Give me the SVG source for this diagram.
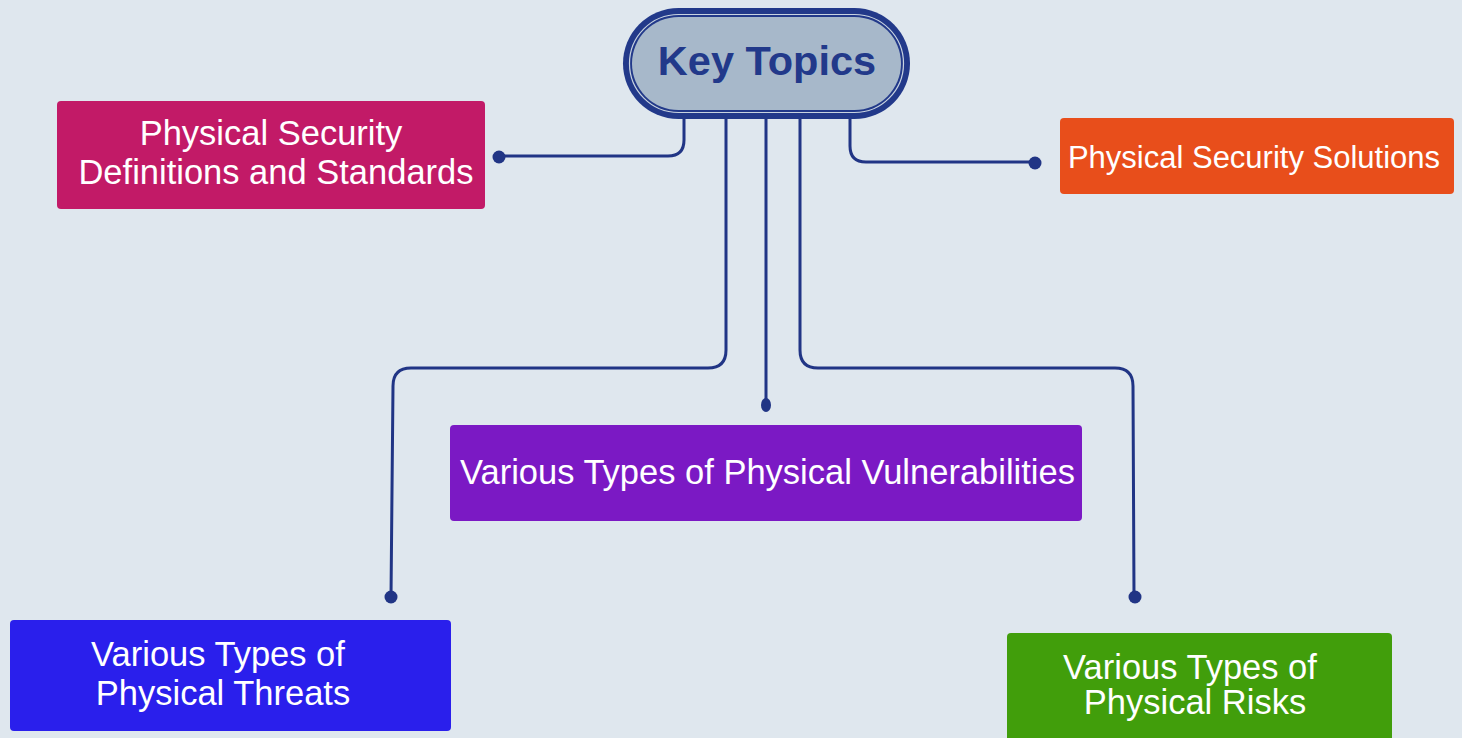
<svg xmlns="http://www.w3.org/2000/svg" width="1462" height="738" viewBox="0 0 1462 738">
<defs>
<style>
.bg{fill:#dfe7ee}
.con{fill:none;stroke:#213585;stroke-width:3}
.dot{fill:#213585}
.box{stroke:none}
.t{font-family:"Liberation Sans",Arial,sans-serif;fill:#ffffff;text-anchor:middle}
.key{font-family:"Liberation Sans",Arial,sans-serif;font-weight:bold;fill:#22398a;text-anchor:middle;font-size:41.5px}
</style>
</defs>
<rect class="bg" x="0" y="0" width="1462" height="738"/>
<g id="connectors">
<path class="con" d="M684,116 V140 Q684,156 668,156 H499"/>
<circle class="dot" cx="499" cy="157" r="6.5"/>
<path class="con" d="M850,116 V146 Q850,162 866,162 H1035"/>
<circle class="dot" cx="1035" cy="163" r="6.5"/>
<path class="con" d="M726,116 V350 Q726,368 708,368 H411 Q393,368 393,386 L391,597"/>
<circle class="dot" cx="391" cy="597" r="6.5"/>
<path class="con" d="M800,116 V350 Q800,368 818,368 H1115 Q1133,368 1133,386 L1134,597"/>
<circle class="dot" cx="1135" cy="597" r="6.5"/>
<path class="con" d="M766,116 V405"/>
<ellipse class="dot" cx="766" cy="405" rx="5" ry="7"/>
</g>
<g id="key-topics">
<rect x="623" y="8" width="287" height="111" rx="55.5" fill="#22398a"/>
<rect x="629.5" y="14.5" width="274" height="98" rx="49" fill="none" stroke="#c8d3e0" stroke-width="1.2"/>
<rect x="632" y="17" width="269" height="93" rx="46.5" fill="#a7b8ca"/>
<text class="key" x="767" y="75">Key Topics</text>
</g>
<g id="definitions">
<rect class="box" x="57" y="101" width="428" height="108" rx="4" fill="#c21a67"/>
<text class="t" font-size="34.5" x="271" y="145">Physical Security</text>
<text class="t" font-size="34.5" x="276" y="184">Definitions and Standards</text>
</g>
<g id="solutions">
<rect class="box" x="1060" y="118" width="394" height="76" rx="4" fill="#e84e1b"/>
<text class="t" font-size="31" x="1254" y="168">Physical Security Solutions</text>
</g>
<g id="vulnerabilities">
<rect class="box" x="450" y="425" width="632" height="96" rx="4" fill="#7b19c4"/>
<text class="t" font-size="34.5" x="767.5" y="484">Various Types of Physical Vulnerabilities</text>
</g>
<g id="threats">
<rect class="box" x="10" y="620" width="441" height="111" rx="4" fill="#2a1fec"/>
<text class="t" font-size="34.5" x="218" y="666">Various Types of</text>
<text class="t" font-size="34.5" x="223" y="705">Physical Threats</text>
</g>
<g id="risks">
<rect class="box" x="1007" y="633" width="385" height="110" rx="4" fill="#419e0b"/>
<text class="t" font-size="34.5" x="1190" y="679">Various Types of</text>
<text class="t" font-size="34.5" x="1195" y="714">Physical Risks</text>
</g>
</svg>
